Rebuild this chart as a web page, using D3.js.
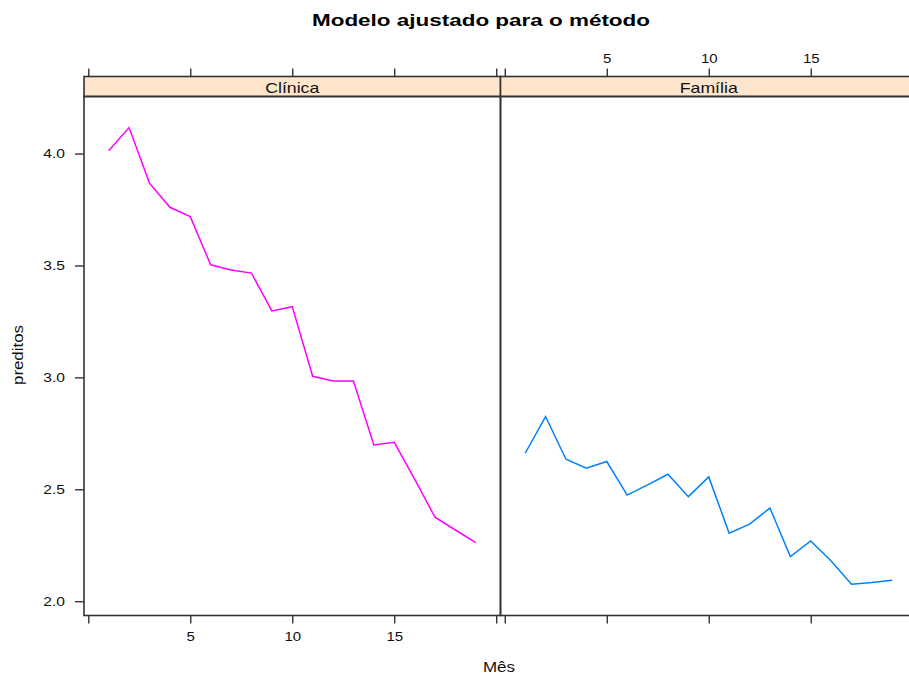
<!DOCTYPE html>
<html>
<head>
<meta charset="utf-8">
<script src="https://cdn.jsdelivr.net/npm/d3@7"></script>
<style>
  body { margin: 0; background: #fff; }
  svg { display: block; font-family: "Liberation Sans", Arial, sans-serif; }
</style>
</head>
<body>
<div id="chart"></div>
<script>
// data
const meses = [1, 2, 3, 4, 5, 6, 7, 8, 9, 10, 11, 12, 13, 14, 15, 16, 17, 18, 19];
const clinica = [4.013, 4.116, 3.868, 3.760, 3.718, 3.503, 3.480, 3.466, 3.297, 3.316,
                 3.005, 2.984, 2.984, 2.698, 2.710, 2.545, 2.375, 2.318, 2.262];
const familia = [2.661, 2.825, 2.634, 2.594, 2.624, 2.474, 2.520, 2.567, 2.467, 2.555,
                 2.304, 2.344, 2.416, 2.199, 2.269, 2.180, 2.076, 2.083, 2.094];
const painel = ["Clínica", "Família"];
const cores = ["#ff00ff", "#0080ff"];
const xTicks = [0, 5, 10, 15, 20];
const xTickLabels = ["", "5", "10", "15", ""];
const yTicks = [2.0, 2.5, 3.0, 3.5, 4.0];

const width = 909, height = 677;
const panelW = 416.5, panelLeft = 84, stripTop = 76.5, panelTop = 96.5, panelBottom = 615.5;

// widen text a bit, the original glyphs are broader than Arial
function stretch(sel, f) {
  sel.each(function () {
    const w = this.getComputedTextLength();
    this.setAttribute("textLength", w * f);
    this.setAttribute("lengthAdjust", "spacingAndGlyphs");
  });
}

const svg = d3.select("#chart").append("svg")
    .attr("width", width)
    .attr("height", height);

const y = d3.scaleLinear()
    .domain([1.936, 4.255])
    .range([panelBottom, panelTop]);

const series = [clinica, familia];
const fmt = d => xTickLabels[xTicks.indexOf(d)];

series.forEach((vals, i) => {
  const x0 = panelLeft + i * panelW;
  const x = d3.scaleLinear()
      .domain([-0.21, 20.21])
      .range([x0, x0 + panelW]);

  // strip
  svg.append("rect")
    .attr("x", x0).attr("y", stripTop)
    .attr("width", panelW).attr("height", panelTop - stripTop)
    .attr("fill", "#ffe5cc")
    .attr("stroke", "#333").attr("stroke-width", 1.6);
  const st = svg.append("text")
    .attr("x", x0 + panelW / 2)
    .attr("y", stripTop + 16)
    .attr("text-anchor", "middle")
    .attr("font-size", 14.5)
    .attr("fill", "#111")
    .text(painel[i]);
  stretch(st, 1.22);

  // line
  const line = d3.line()
      .x((d, j) => x(meses[j]))
      .y(d => y(d));
  svg.append("path")
    .datum(vals)
    .attr("fill", "none")
    .attr("stroke", cores[i])
    .attr("stroke-width", 1.5)
    .attr("d", line);

  // panel border
  svg.append("rect")
    .attr("x", x0).attr("y", panelTop)
    .attr("width", panelW).attr("height", panelBottom - panelTop)
    .attr("fill", "none")
    .attr("stroke", "#333").attr("stroke-width", 1.6);

  // labels at the bottom of the first panel, at the top of the second
  const gb = svg.append("g")
    .attr("transform", `translate(0,${panelBottom})`)
    .call(d3.axisBottom(x).tickValues(xTicks).tickSize(8).tickPadding(9)
      .tickFormat(i === 0 ? fmt : () => ""));
  const gt = svg.append("g")
    .attr("transform", `translate(0,${stripTop})`)
    .call(d3.axisTop(x).tickValues(xTicks).tickSize(8).tickPadding(6)
      .tickFormat(i === 1 ? fmt : () => ""));
  [gb, gt].forEach(g => {
    g.select(".domain").remove();
    g.selectAll("line").attr("stroke", "#333").attr("stroke-width", 1.4);
    g.selectAll("text").attr("font-size", 12.5).attr("fill", "#111")
      .attr("font-family", "Liberation Sans, Arial, sans-serif");
    stretch(g.selectAll("text").filter(function () { return this.textContent; }), 1.2);
  });
});

// y axis on the left panel
const gy = svg.append("g")
  .attr("transform", `translate(${panelLeft},0)`)
  .call(d3.axisLeft(y).tickValues(yTicks).tickSize(9).tickPadding(10)
    .tickFormat(d3.format(".1f")));
gy.select(".domain").remove();
gy.selectAll("line").attr("stroke", "#333").attr("stroke-width", 1.4);
gy.selectAll("text").attr("font-size", 12.5).attr("fill", "#111")
  .attr("font-family", "Liberation Sans, Arial, sans-serif");
stretch(gy.selectAll("text"), 1.25);

// title and axis titles
svg.append("text")
  .attr("x", 481)
  .attr("y", 26)
  .attr("text-anchor", "middle")
  .attr("font-size", 16)
  .attr("font-weight", "bold")
  .attr("fill", "#000")
  .attr("textLength", 338)
  .attr("lengthAdjust", "spacingAndGlyphs")
  .text("Modelo ajustado para o método");

svg.append("text")
  .attr("x", 499)
  .attr("y", 672)
  .attr("text-anchor", "middle")
  .attr("font-size", 14)
  .attr("fill", "#111")
  .attr("textLength", 32)
  .attr("lengthAdjust", "spacingAndGlyphs")
  .text("Mês");

svg.append("text")
  .attr("transform", "rotate(-90)")
  .attr("x", -355)
  .attr("y", 23)
  .attr("text-anchor", "middle")
  .attr("font-size", 14)
  .attr("fill", "#111")
  .attr("textLength", 60)
  .attr("lengthAdjust", "spacingAndGlyphs")
  .text("preditos");
</script>
</body>
</html>
